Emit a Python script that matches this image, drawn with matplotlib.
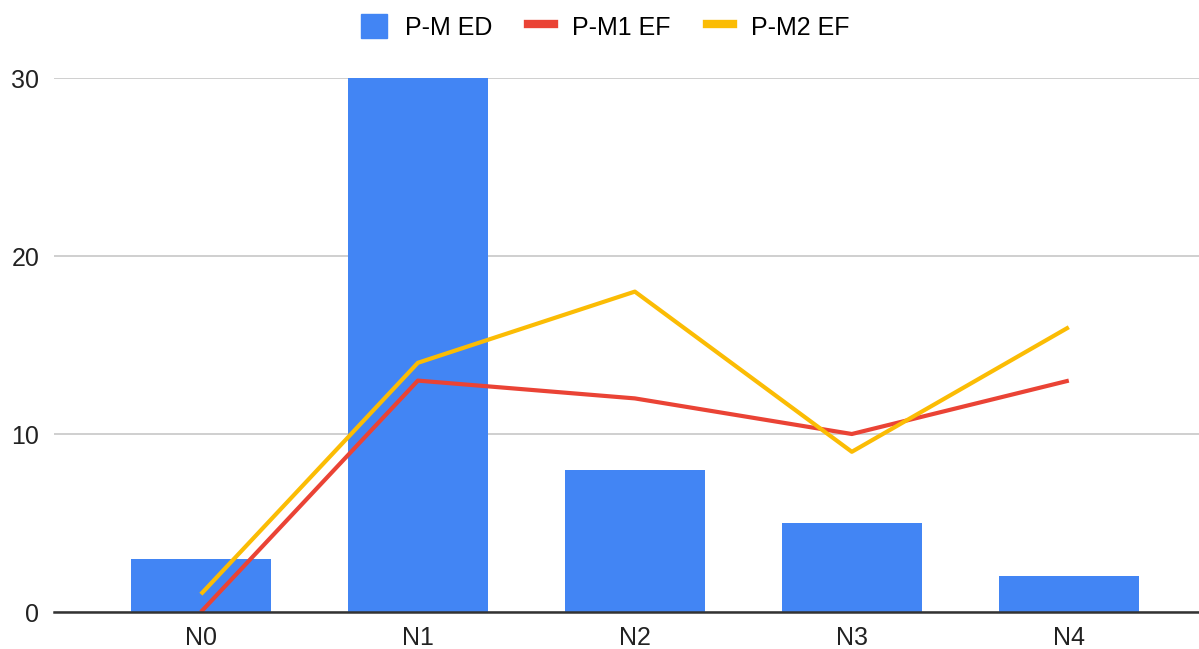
import matplotlib.pyplot as plt
from matplotlib.lines import Line2D
from matplotlib.patches import Patch
import numpy as np

categories = ["N0", "N1", "N2", "N3", "N4"]
pm_ed = [3, 30, 8, 5, 2]
pm1_ef = [0, 13, 12, 10, 13]
pm2_ef = [1, 14, 18, 9, 16]

blue = "#4285F4"
red = "#EA4335"
yellow = "#FBBC04"

plt.rcParams['font.family'] = ['Liberation Sans', 'DejaVu Sans']

fig = plt.figure(figsize=(11.99, 6.49), dpi=100)
ax = fig.add_axes([54 / 1199, 37 / 649, 1 - 54 / 1199, (613 - 79) / 649])

x = np.arange(len(categories))
ax.bar(x, pm_ed, width=0.645, color=blue, zorder=2)
ax.plot(x, pm1_ef, color=red, lw=3, zorder=3, solid_capstyle='butt')
ax.plot(x, pm2_ef, color=yellow, lw=3, zorder=3, solid_capstyle='butt')

ax.set_xlim(-0.677, 4.6)
ax.set_ylim(0, 30)
ax.set_yticks([0, 10, 20, 30])
ax.set_xticks(x)
ax.set_xticklabels(categories)
ax.tick_params(axis='both', length=0, labelsize=18, colors="#222222")
ax.tick_params(axis='x', pad=10)
ax.tick_params(axis='y', pad=10.5)
ax.grid(axis='y', color="#cccccc", lw=1.3, zorder=0)
ax.set_axisbelow(True)
for s in ["top", "right", "left"]:
    ax.spines[s].set_visible(False)
ax.spines["bottom"].set_color("#333333")
ax.spines["bottom"].set_linewidth(1.8)
ax.spines["bottom"].set_zorder(4)

# legend across the top
handles = [
    Patch(facecolor=blue, edgecolor=blue),
    Line2D([0], [0], color=red, lw=6),
    Line2D([0], [0], color=yellow, lw=6),
]
fig.legend(handles, ["P-M ED", "P-M1 EF", "P-M2 EF"], loc="center",
           bbox_to_anchor=(605 / 1199, 1 - 27 / 649), ncol=3, frameon=False,
           fontsize=18, handlelength=1.04, handleheight=1.04, columnspacing=1.44,
           handletextpad=0.72)

fig.savefig("out.png", dpi=100)
